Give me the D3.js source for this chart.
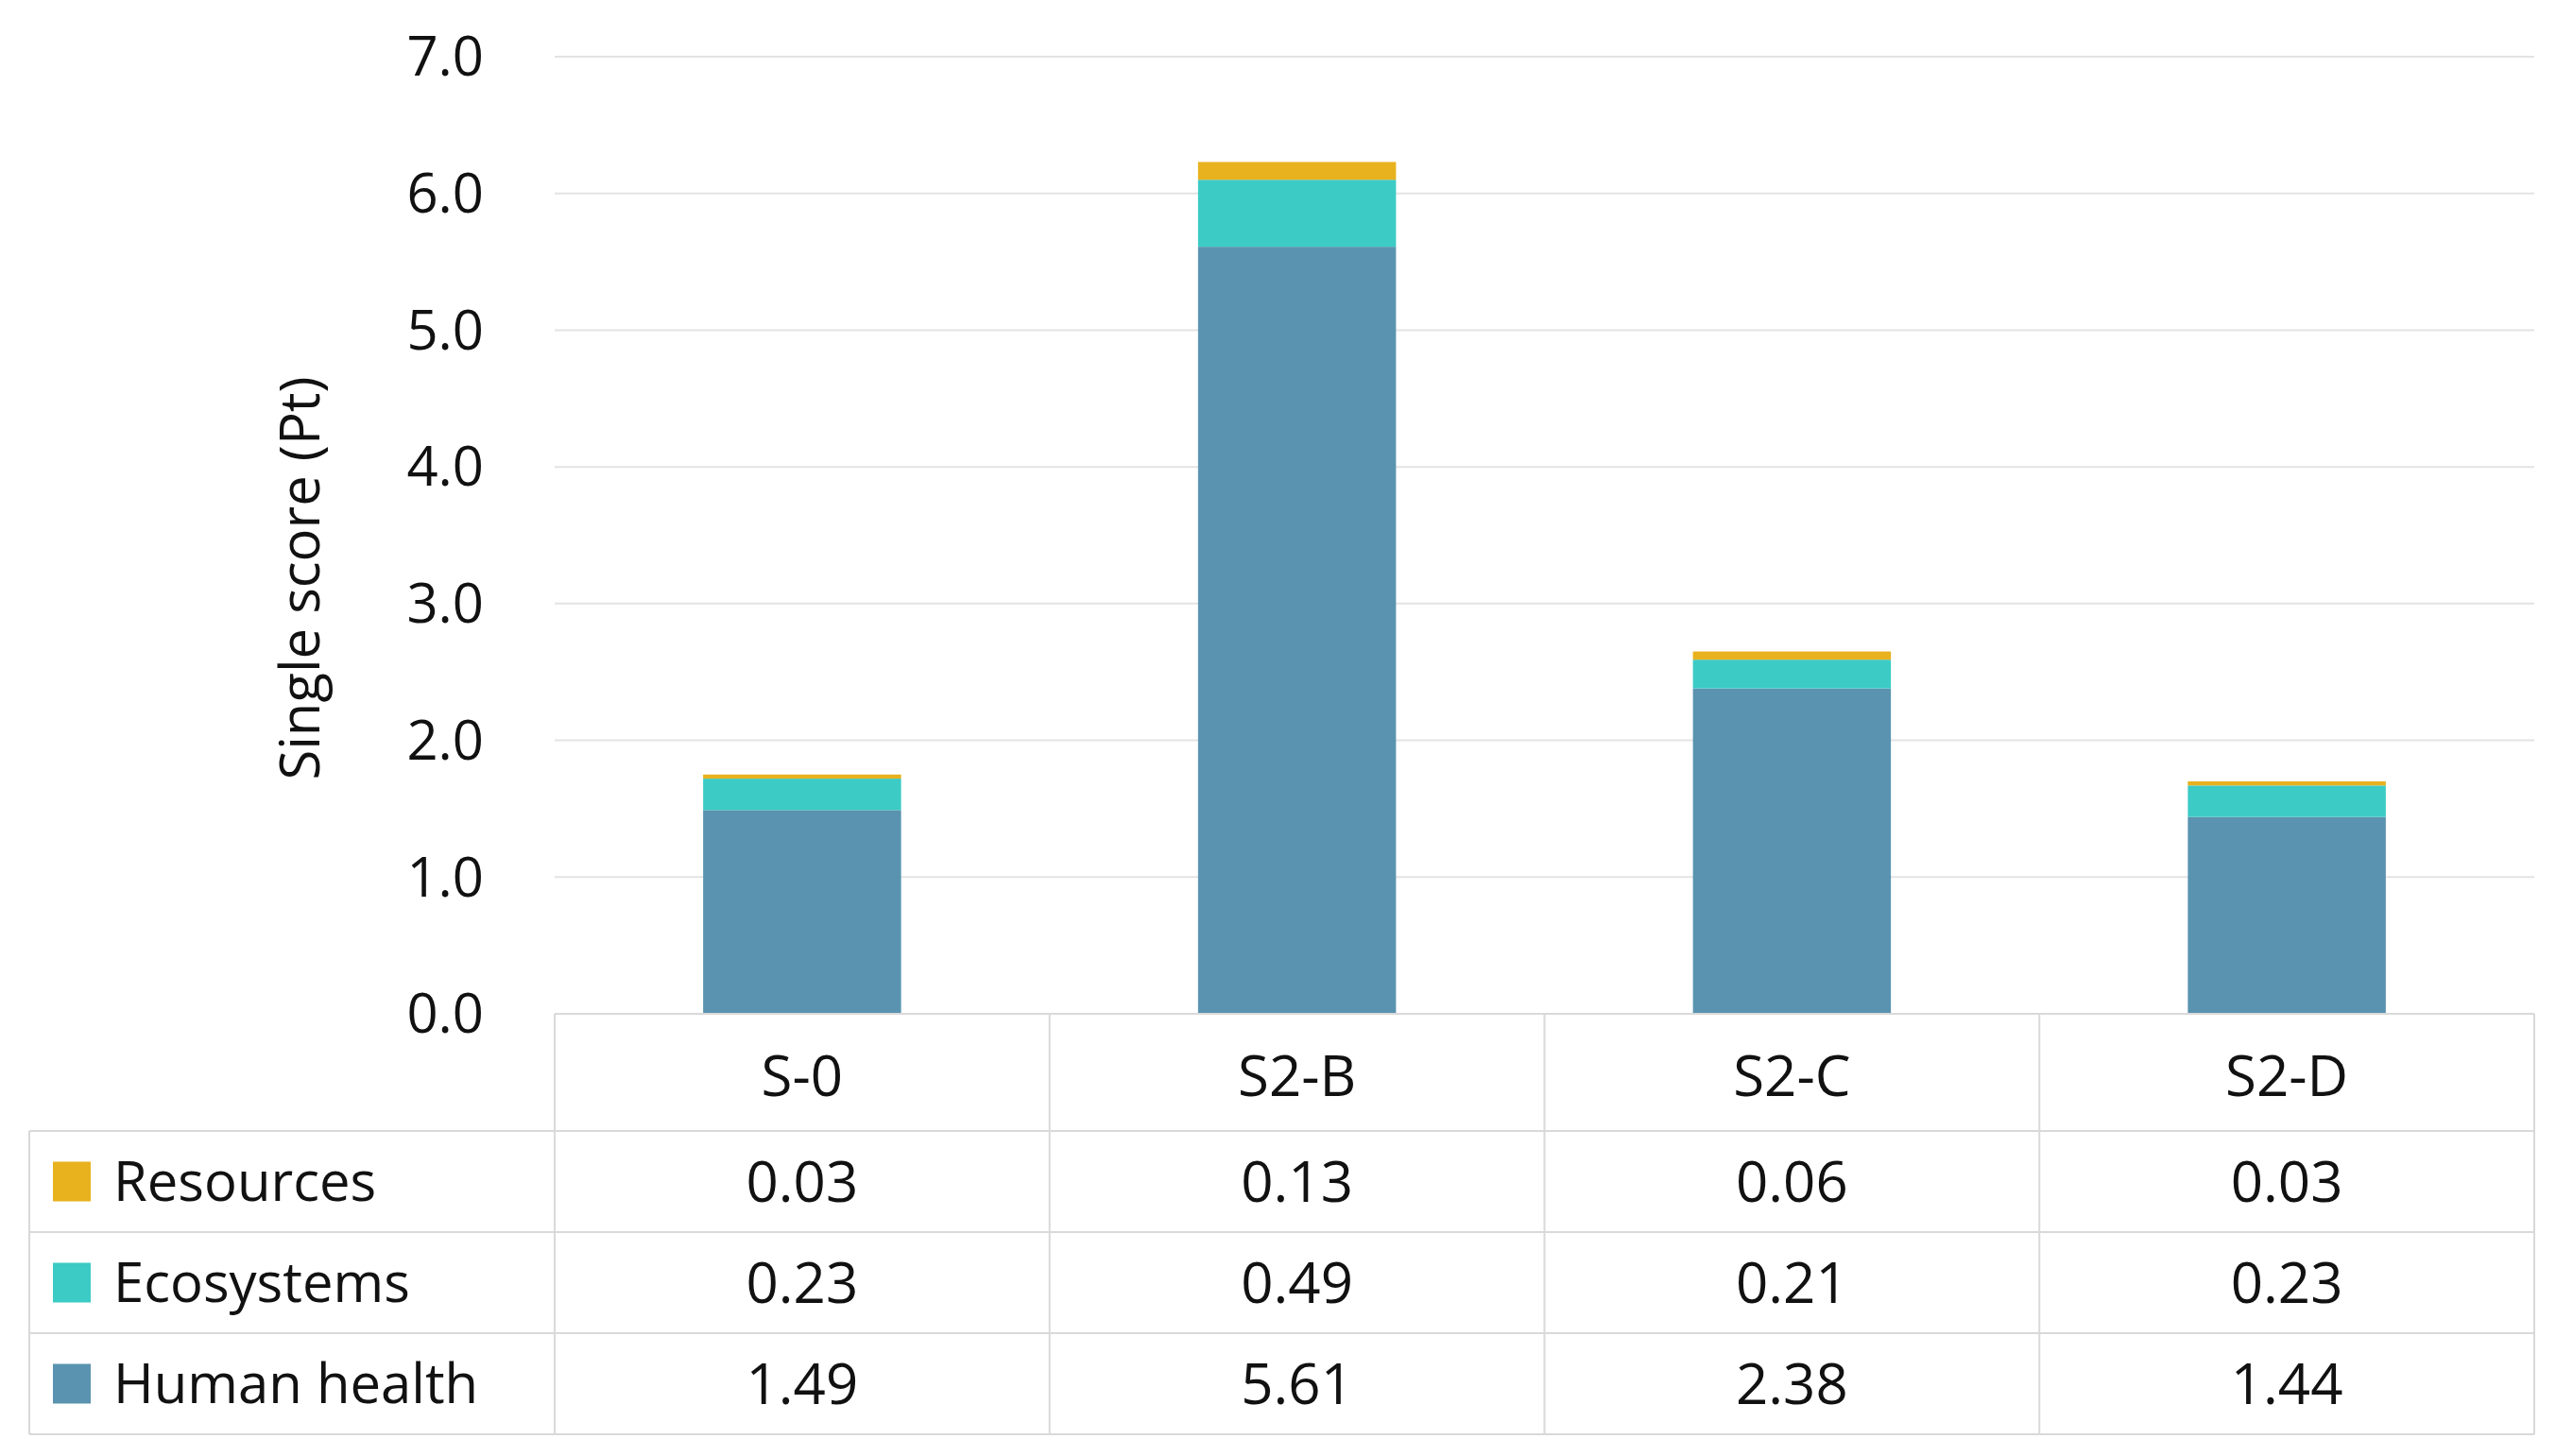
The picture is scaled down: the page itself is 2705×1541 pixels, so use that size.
<!DOCTYPE html>
<html lang="en">
<head>
<meta charset="UTF-8">
<title>Single score</title>
<script src="https://cdn.jsdelivr.net/npm/d3@7"></script>
<style>
  body { margin: 0; background: #fff; }
  text { font-family: "Open Sans", Lato, sans-serif; fill: #111; }
</style>
</head>
<body>
<svg id="chart" width="2705" height="1541"></svg>
<script>
var categories = ["S-0", "S2-B", "S2-C", "S2-D"];
var seriesNames = ["Human health", "Ecosystems", "Resources"];
var humanHealth = [1.49, 5.61, 2.38, 1.44];
var ecosystems = [0.23, 0.49, 0.21, 0.23];
var resources = [0.03, 0.13, 0.06, 0.03];
var yTicks = [0, 1, 2, 3, 4, 5, 6, 7];
var colors = ["#5a93b0", "#3ccbc5", "#e8b11e"];

var svg = d3.select("#chart");
var plotLeft = 587, plotRight = 2682, plotTop = 60, plotZero = 1073;
var tableLeft = 31;
var rowEdges = [1073, 1197, 1304, 1411, 1518];

var x = d3.scaleBand().domain(categories).range([plotLeft, plotRight]).paddingInner(0).paddingOuter(0);
var y = d3.scaleLinear().domain([0, 7]).range([plotZero, plotTop]);

// gridlines
svg.append("g").selectAll("line").data(yTicks).join("line")
    .attr("x1", plotLeft).attr("x2", plotRight)
    .attr("y1", function(d) { return y(d); }).attr("y2", function(d) { return y(d); })
    .attr("stroke", "#e3e3e3").attr("stroke-width", 2);

// y tick labels
svg.append("g").selectAll("text").data(yTicks).join("text")
    .attr("x", 512).attr("y", function(d) { return y(d); })
    .attr("dy", "0.35em").attr("text-anchor", "end")
    .attr("font-size", 58)
    .text(function(d) { return d3.format(".1f")(d); });

svg.append("text")
    .attr("transform", "translate(318,612) rotate(-90)")
    .attr("text-anchor", "middle").attr("dy", "0.35em")
    .attr("font-size", 58)
    .text("Single score (Pt)");

// stacked bars
var rows = categories.map(function(c, i) {
  return { cat: c, "Human health": humanHealth[i], "Ecosystems": ecosystems[i], "Resources": resources[i] };
});
var stack = d3.stack().keys(seriesNames)(rows);
var bw = x.bandwidth() * 0.4;
svg.append("g").selectAll("g").data(stack).join("g")
    .attr("fill", function(d, i) { return colors[i]; })
  .selectAll("rect").data(function(d) { return d; }).join("rect")
    .attr("x", function(d) { return x(d.data.cat) + (x.bandwidth() - bw) / 2; })
    .attr("width", bw)
    .attr("y", function(d) { return y(d[1]); })
    .attr("height", function(d) { return y(d[0]) - y(d[1]); });

// data table
var tbl = svg.append("g").attr("stroke", "#d9d9d9").attr("stroke-width", 2);
var colEdges = categories.map(function(c) { return x(c); }).concat([plotRight]);
colEdges.forEach(function(cx) {
  tbl.append("line").attr("x1", cx).attr("x2", cx).attr("y1", rowEdges[0]).attr("y2", rowEdges[4]);
});
tbl.append("line").attr("x1", tableLeft).attr("x2", tableLeft).attr("y1", rowEdges[1]).attr("y2", rowEdges[4]);
rowEdges.forEach(function(ry, i) {
  tbl.append("line").attr("x1", i === 0 ? plotLeft : tableLeft).attr("x2", plotRight).attr("y1", ry).attr("y2", ry);
});

svg.append("g").selectAll("text").data(categories).join("text")
    .attr("x", function(d) { return x(d) + x.bandwidth() / 2; })
    .attr("y", (rowEdges[0] + rowEdges[1]) / 2 + 4)
    .attr("dy", "0.35em").attr("text-anchor", "middle").attr("font-size", 60)
    .text(function(d) { return d; });

var tableRows = [
  { name: "Resources", vals: resources, color: colors[2] },
  { name: "Ecosystems", vals: ecosystems, color: colors[1] },
  { name: "Human health", vals: humanHealth, color: colors[0] }
];
tableRows.forEach(function(r, i) {
  var cy = (rowEdges[i + 1] + rowEdges[i + 2]) / 2;
  svg.append("rect").attr("x", 56).attr("y", cy - 21).attr("width", 40).attr("height", 42).attr("fill", r.color);
  svg.append("text").attr("x", 120).attr("y", cy).attr("dy", "0.35em")
      .attr("font-size", 58).text(r.name);
  svg.append("g").selectAll("text").data(r.vals).join("text")
      .attr("x", function(d, j) { return x(categories[j]) + x.bandwidth() / 2; })
      .attr("y", cy).attr("dy", "0.35em").attr("text-anchor", "middle").attr("font-size", 60)
      .text(function(d) { return d3.format(".2f")(d); });
});
</script>
</body>
</html>
